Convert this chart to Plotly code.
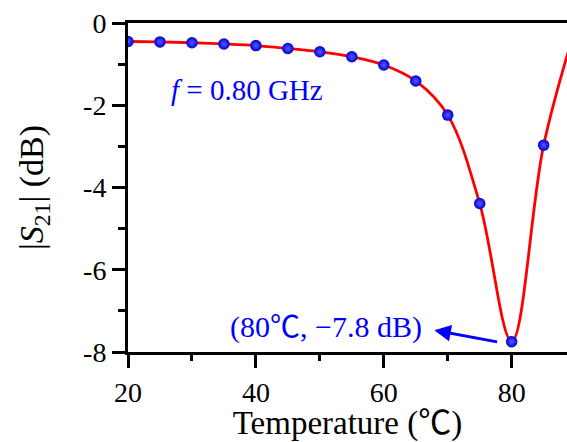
import plotly.graph_objects as go

# Data
temperature = [20, 25, 30, 35, 40, 45, 50, 55, 60, 65, 70, 75, 80, 85]
s21_db = [-0.45, -0.46, -0.48, -0.51, -0.55, -0.62, -0.70, -0.82, -1.02, -1.41, -2.24, -4.39, -7.75, -2.97]
# fitted curve continues beyond the visible range
curve_t = temperature + [90]
curve_s21 = s21_db + [-0.1]

x_tickvals = [20, 40, 60, 80]
x_ticktext = ["20", "40", "60", "80"]
y_tickvals = [-8, -6, -4, -2, 0]
y_ticktext = ["-8", "-6", "-4", "-2", "0"]

SERIF = "Liberation Serif, 'Noto Sans CJK SC', serif"

fig = go.Figure()
fig.add_trace(go.Scatter(
    x=curve_t, y=curve_s21, mode="lines",
    line=dict(color="#ff0000", width=2.8, shape="spline", smoothing=1.0),
    hoverinfo="skip", showlegend=False))
fig.add_trace(go.Scatter(
    x=temperature, y=s21_db, mode="markers",
    marker=dict(size=11.5, color="#0000d8",
                gradient=dict(type="radial", color="#5a5aff"),
                line=dict(width=0)),
    showlegend=False))

fig.add_annotation(x=38.6, y=-1.63, xref="x", yref="y",
                   text="<i>f</i> = 0.80 GHz", showarrow=False,
                   font=dict(family=SERIF, size=29, color="#0000ff"))
fig.add_annotation(x=50.9, y=-7.40, xref="x", yref="y",
                   text="(80℃, −7.8 dB)", showarrow=False,
                   font=dict(family=SERIF, size=30, color="#0000ff"))
# arrow
fig.add_annotation(x=67.9, y=-7.47, ax=77.95, ay=-7.76,
                   xref="x", yref="y", axref="x", ayref="y",
                   text="", showarrow=True, arrowhead=2, arrowsize=1.1,
                   arrowwidth=3, arrowcolor="#0000ff")

fig.update_layout(
    width=567, height=442,
    margin=dict(l=128, r=0, t=23, b=90),
    paper_bgcolor="white", plot_bgcolor="white",
    font=dict(family=SERIF, color="black"),
    xaxis=dict(
        range=[20, 88.65], showgrid=False, zeroline=False,
        showline=True, linecolor="black", linewidth=3, mirror=True,
        ticks="outside", ticklen=13, tickwidth=3, tickcolor="black",
        tickvals=x_tickvals, ticktext=x_ticktext,
        tickfont=dict(family=SERIF, size=28),
        minor=dict(ticks="outside", ticklen=6, tickwidth=3, dtick=10, tickcolor="black"),
        title=dict(text="Temperature (℃)", font=dict(family=SERIF, size=33), standoff=4),
    ),
    yaxis=dict(
        range=[-8, 0], showgrid=False, zeroline=False,
        showline=True, linecolor="black", linewidth=3, mirror=False,
        ticks="outside", ticklen=13, tickwidth=3, tickcolor="black",
        tickvals=y_tickvals, ticktext=y_ticktext,
        tickfont=dict(family=SERIF, size=28),
        minor=dict(ticks="outside", ticklen=7, tickwidth=3, dtick=1, tickcolor="black"),
        title=dict(text="|<i>S</i><sub>21</sub>| (dB)", font=dict(family=SERIF, size=34), standoff=30),
    ),
)

fig.write_html("out.html")
